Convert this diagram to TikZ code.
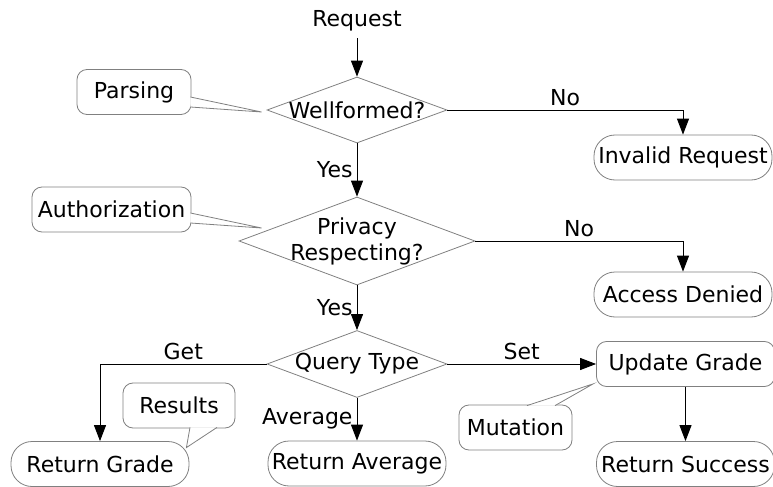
\documentclass[tikz,border=0pt]{standalone}
\usepackage{fontspec}
\setmainfont{DejaVu Sans}
\usetikzlibrary{shapes.geometric,arrows.meta,calc}
\begin{document}
\begin{tikzpicture}[x=0.5pt, y=-0.5pt,
            every node/.style={font=\fontsize{11}{13}\selectfont},
            test/.style={diamond, draw=black!50, inner sep=0pt},
            term/.style={draw=black!50, rounded corners=10.5pt, minimum width=89pt,
                         minimum height=22.5pt, inner sep=0pt},
            note/.style={draw=black!50, rounded corners=5pt, minimum height=22.5pt,
                         inner sep=0pt},
            ptr/.style={draw=black!50, fill=white},
            flow/.style={-{Triangle[length=8pt,width=6pt]}, line width=0.5pt},
            lbl/.style={inner sep=2pt}]
            \useasboundingbox (0,0) rectangle (773,487);
            \node (req) at (357,21) {Request};
            \node[test, minimum width=90pt, minimum height=33pt] (wf) at (357,110) {};
            \node (wftxt) at (wf) {Wellformed?};
            \node[test, minimum width=118pt, minimum height=44pt] (priv) at (357,241) {};
            \node[align=center] (privtxt) at (priv) {Privacy\\Respecting?};
            \node[test, minimum width=90pt, minimum height=33.5pt] (qt) at (357,364) {};
            \node (qttxt) at (qt) {Query Type};
            \foreach \n/\x/\y/\t in {inv/683/157.5/Invalid Request,
                                     den/683/294.5/Access Denied,
                                     retg/100/464/Return Grade,
                                     reta/357/463.5/Return Average,
                                     rets/685.5/464/Return Success}
            \node[term] (\n) at (\x,\y) {\t};
            \node[term, rounded corners=5pt] (upd) at (685.5,364) {Update Grade};
            \draw[flow] (req) -- (wf);
            \draw[flow] (wf) -- node[lbl,left] (yes1) {Yes} (priv);
            \draw[flow] (wf.east) -| node[lbl,above,pos=0.25] (no1) {No} (inv.north);
            \draw[flow] (priv) -- node[lbl,left] (yes2) {Yes} (qt);
            \draw[flow] (priv.east) -| node[lbl,above,pos=0.25] (no2) {No} (den.north);
            \draw[flow] (qt.west) -| node[lbl,above,pos=0.25] (get) {Get} (retg.north);
            \draw[flow] (qt.east) -- node[lbl,above] (set) {Set} (upd.west);
            \draw[flow] (qt) -- node[lbl,left] (avg) {Average} (reta);
            \draw[flow] (upd) -- (rets);
            \node[note, minimum width=57pt] (parse) at (134,92) {Parsing};
            \node[note, minimum width=79.5pt] (auth) at (111.5,209.5) {Authorization};
            \node[note, minimum width=56pt] (res) at (179,405.5) {Results};
            \node[note, minimum width=56.5pt] (mut) at (515.5,427.5) {Mutation};
            \filldraw[ptr] ($(parse.east)+(-1,5)$) -- ($(wf.west)+(-5,2)$)
                           -- ($(parse.east)+(-1,15)$);
            \filldraw[ptr] ($(auth.east)+(-1,3.5)$) -- ($(priv.west)+(23,-13)$)
                           -- ($(auth.east)+(-1,13.5)$);
            \filldraw[ptr] ($(res.south)+(11,-1)$) -- ($(retg.north east)+(-3,6.5)$)
                           -- ($(res.south)+(38,-1)$);
            \filldraw[ptr] ($(mut.north)+(11.5,1)$) -- ($(upd.south west)+(-3,-3)$)
                           -- ($(mut.north)+(39.5,1)$);%
        \end{tikzpicture}
\end{document}
